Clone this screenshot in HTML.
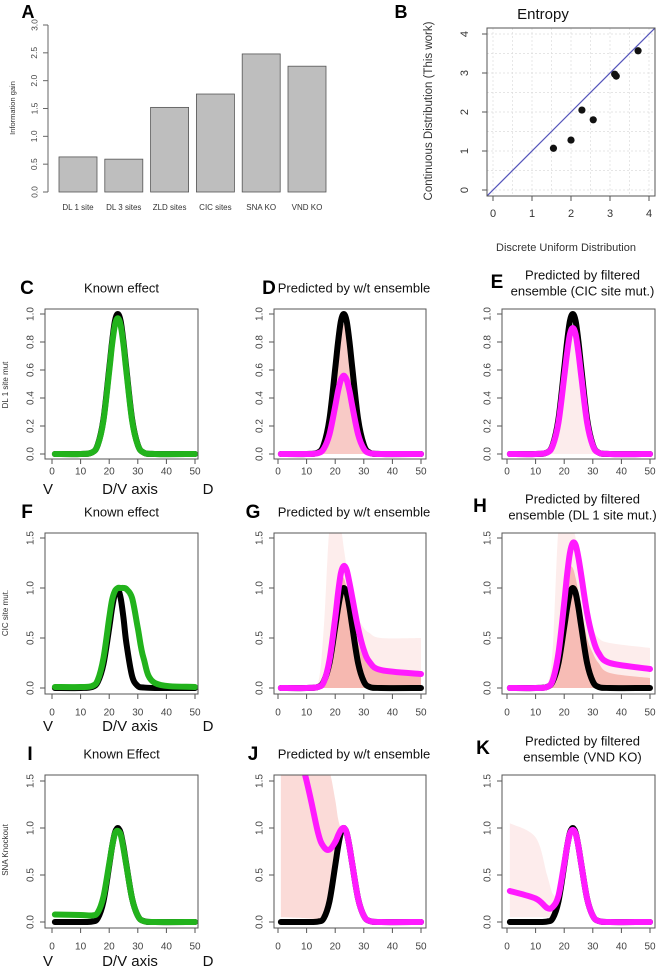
<!DOCTYPE html>
<html><head><meta charset="utf-8">
<style>
html,body{margin:0;padding:0;background:#fff;}
svg{display:block;font-family:"Liberation Sans",Arial,sans-serif;}
</style></head>
<body>
<svg id="fig" width="660" height="967" viewBox="0 0 660 967" xmlns="http://www.w3.org/2000/svg"></svg>
<script>
// ---------- Panel A data ----------
const barCategories = ["DL 1 site","DL 3 sites","ZLD sites","CIC sites","SNA KO","VND KO"];
const barValues = [0.63, 0.59, 1.52, 1.76, 2.48, 2.26];
const barTicks = ["0.0","0.5","1.0","1.5","2.0","2.5","3.0"];

// ---------- Panel B data ----------
const entropyDiscrete = [1.55, 2.0, 2.28, 2.57, 3.12, 3.16, 3.72];
const entropyContinuous = [1.07, 1.28, 2.05, 1.8, 2.97, 2.92, 3.57];
const entropyTicks = [0,1,2,3,4];

// ---------- Curve data (D/V axis positions) ----------
const dvPos = [1,10,14,16,18,20,21,22,23,24,25,26,28,30,32,36,50];
const dlBlack   = [0,0,0.011,0.066,0.25,0.61,0.80,0.95,1.0,0.95,0.80,0.61,0.25,0.066,0.011,0,0];
const cGreen    = [0,0,0.011,0.064,0.24,0.59,0.78,0.92,0.97,0.92,0.78,0.59,0.24,0.064,0.011,0,0];
const dMagenta  = [0,0,0.006,0.037,0.14,0.34,0.45,0.53,0.56,0.53,0.45,0.34,0.14,0.037,0.006,0,0];
const eMagenta  = [0,0,0.01,0.06,0.225,0.55,0.72,0.855,0.9,0.855,0.72,0.55,0.225,0.06,0.01,0,0];
const fBlack    = [0,0,0.01,0.06,0.24,0.6,0.8,0.94,0.99,0.9,0.7,0.45,0.12,0.02,0.005,0,0];
const fGreen    = [0.01,0.01,0.02,0.08,0.3,0.7,0.88,0.97,1.0,1.0,1.0,0.99,0.9,0.6,0.3,0.05,0.01];
const gMagenta  = [0,0,0.01,0.06,0.28,0.7,0.95,1.15,1.22,1.18,1.05,0.9,0.6,0.38,0.26,0.18,0.14];
const hMagenta  = [0,0,0.01,0.08,0.35,0.85,1.13,1.35,1.45,1.43,1.3,1.12,0.75,0.5,0.35,0.25,0.19];
const iBlack    = [0,0,0.005,0.04,0.22,0.6,0.8,0.95,1.0,0.95,0.80,0.61,0.25,0.066,0.011,0,0];
const iGreen    = [0.08,0.075,0.07,0.1,0.27,0.62,0.8,0.94,0.97,0.93,0.78,0.6,0.25,0.066,0.01,0,0];
const jMagenta  = [2.6,1.5,0.95,0.8,0.77,0.85,0.92,0.98,1.0,0.95,0.8,0.61,0.25,0.066,0.011,0,0];
const kMagenta  = [0.33,0.25,0.15,0.16,0.28,0.62,0.8,0.94,0.98,0.94,0.8,0.61,0.25,0.066,0.011,0,0];
// ensemble envelopes (pink shading)
const gEnsUpper = [0,0,0.05,0.6,1.6,1.6,1.6,1.6,1.4,1.2,1.0,0.85,0.7,0.6,0.55,0.5,0.5];
const gEnsCore  = [0,0,0.01,0.06,0.3,0.75,1.0,1.1,1.1,1.0,0.85,0.7,0.45,0.3,0.22,0.16,0.12];
const hEnsUpper = [0,0,0.03,0.4,1.6,1.6,1.6,1.6,1.6,1.5,1.3,1.1,0.8,0.6,0.5,0.45,0.4];
const hEnsCore  = [0,0,0.01,0.06,0.3,0.8,1.05,1.2,1.2,1.1,0.95,0.8,0.5,0.35,0.25,0.15,0.1];
const jEnsUpper = [1.6,1.6,1.6,1.6,1.6,1.3,1.1,1.0,1.0,0.95,0.8,0.61,0.25,0.07,0.01,0,0];
const jEnsLower = [0.05,0.04,0.03,0.05,0.25,0.6,0.8,0.95,1.0,0.95,0.8,0.61,0.25,0.066,0.011,0,0];
const kEnsUpper = [1.05,0.9,0.5,0.3,0.3,0.62,0.8,0.94,0.98,0.94,0.8,0.61,0.25,0.066,0.011,0,0];
const kEnsLower = [0.05,0.05,0.05,0.06,0.22,0.6,0.8,0.94,0.98,0.94,0.8,0.61,0.25,0.066,0.011,0,0];
const dEnsUpper = [0,0,0.01,0.06,0.24,0.6,0.78,0.9,0.93,0.9,0.78,0.6,0.24,0.06,0.01,0,0];
const dvTicks = [0,10,20,30,40,50];

const NS = "http://www.w3.org/2000/svg";
const svg = document.getElementById("fig");
function el(tag, attrs, parent){
  const e = document.createElementNS(NS, tag);
  for (const k in attrs) e.setAttribute(k, attrs[k]);
  (parent||svg).appendChild(e);
  return e;
}
function txt(s, x, y, size, opts, parent){
  const t = el("text", Object.assign({x:x, y:y, "font-size":size, "text-anchor":"middle", "dominant-baseline":"middle", fill:"#222"}, opts||{}), parent);
  t.textContent = s;
  return t;
}

// ================= Panel A =================
const gA = el("g", {});


const aY = v => 192 - v * (192 - 25) / 3;
const aBarL = [59,105,150,196,242,288];
const aBarW = 38;
txt("A", 28, 13, 18, {"font-weight":"bold", fill:"#000"}, gA);
el("line", {x1:48, y1:aY(0), x2:48, y2:aY(3), stroke:"#666"}, gA);
barTicks.forEach((t,i)=>{
  const v = parseFloat(t), y = aY(v);
  el("line", {x1:43, y1:y, x2:48, y2:y, stroke:"#666"}, gA);
  const lt = txt(t, 35, y, 8.5, {transform:`rotate(-90 35 ${y})`, fill:"#444"}, gA);
  
  
});
const aTitle = txt("Information gain", 13, 108, 7.5, {transform:"rotate(-90 13 108)", fill:"#333"}, gA);


barCategories.forEach((c,i)=>{
  const x = aBarL[0] + i * (aBarL[5]-aBarL[0]) / 5;
  const r = el("rect", {x:x, y:aY(barValues[i]), width:aBarW, height:aY(0)-aY(barValues[i]), fill:"#bebebe", stroke:"#555", "stroke-width":0.8}, gA);
  
  
  const lt = txt(c, x + aBarW/2, 208, 8, {fill:"#333"}, gA);
  
  
});

// ================= Panel B =================
const gB = el("g", {});


const bX = v => 493 + v * 39;
const bY = v => 190 - v * 39;
const bBox = {l:487, r:655, t:28, b:196};
txt("B", 401, 13, 18, {"font-weight":"bold", fill:"#000"}, gB);
txt("Entropy", 543, 15, 15, {fill:"#111"}, gB);
for (let v=0; v<=4.01; v+=0.5){
  el("line", {x1:bX(v), y1:bBox.t, x2:bX(v), y2:bBox.b, stroke:"#ddd", "stroke-dasharray":"2,2", "stroke-width":0.7}, gB);
  el("line", {x1:bBox.l, y1:bY(v), x2:bBox.r, y2:bY(v), stroke:"#ddd", "stroke-dasharray":"2,2", "stroke-width":0.7}, gB);
}
el("clipPath", {id:"clipB"}, gB);
el("rect", {x:bBox.l, y:bBox.t, width:bBox.r-bBox.l, height:bBox.b-bBox.t}, document.getElementById("clipB"));
const diag = el("line", {x1:bX(-0.2), y1:bY(-0.2), x2:bX(4.3), y2:bY(4.3), stroke:"#5555bb", "stroke-width":1.2, "clip-path":"url(#clipB)"}, gB);


el("rect", {x:bBox.l, y:bBox.t, width:bBox.r-bBox.l, height:bBox.b-bBox.t, fill:"none", stroke:"#555"}, gB);
entropyTicks.forEach(v=>{
  el("line", {x1:bX(v), y1:bBox.b, x2:bX(v), y2:bBox.b+5, stroke:"#555"}, gB);
  txt(String(v), bX(v), 214, 11, {fill:"#333"}, gB);
  el("line", {x1:bBox.l-5, y1:bY(v), x2:bBox.l, y2:bY(v), stroke:"#555"}, gB);
  txt(String(v), 465, bY(v), 11, {transform:`rotate(-90 465 ${bY(v)})`, fill:"#333"}, gB);
});
txt("Discrete Uniform Distribution", 566, 248, 11, {fill:"#333"}, gB);
txt("Continuous Distribution (This work)", 429, 111, 11.5, {transform:"rotate(-90 429 111)", fill:"#333"}, gB);
entropyDiscrete.forEach((d,i)=>{
  const c = el("circle", {cx:bX(d), cy:bY(entropyContinuous[i]), r:3.6, fill:"#111"}, gB);
  
  
});

// ================= Curve panels =================
const cols = [
  {x0:52, x50:195, l:45, r:198},
  {x0:278, x50:421, l:274, r:426},
  {x0:507, x50:650, l:502, r:655}
];
const rows = [
  {y0:454, unit:140, t:309, b:459, ticks:["0.0","0.2","0.4","0.6","0.8","1.0"], max:1.0, xlab:472, dv:490, ylabel:"DL 1 site mut", ylabY:385},
  {y0:688, unit:100, t:533, b:694, ticks:["0.0","0.5","1.0","1.5"], max:1.5, xlab:713, dv:727, ylabel:"CIC site mut.", ylabY:613},
  {y0:922, unit:94, t:775, b:928, ticks:["0.0","0.5","1.0","1.5"], max:1.5, xlab:947, dv:962, ylabel:"SNA Knockout", ylabY:850}
];
function smoothPath(pts){
  let d = `M${pts[0][0]},${pts[0][1]}`;
  for (let i=0;i<pts.length-1;i++){
    const p0 = pts[i-1]||pts[i], p1 = pts[i], p2 = pts[i+1], p3 = pts[i+2]||p2;
    const c1 = [p1[0]+(p2[0]-p0[0])/6, p1[1]+(p2[1]-p0[1])/6];
    const c2 = [p2[0]-(p3[0]-p1[0])/6, p2[1]-(p3[1]-p1[1])/6];
    d += ` C${c1[0]},${c1[1]} ${c2[0]},${c2[1]} ${p2[0]},${p2[1]}`;
  }
  return d;
}
let clipN = 0;
function panel(ri, ci, letter, titleLines, letterX, name){
  const R = rows[ri], C = cols[ci];
  const g = el("g", {});
  
  
  const sx = v => C.x0 + v * (C.x50 - C.x0) / 50;
  const sy = v => R.y0 - v * R.unit;
  const id = "clip" + (clipN++);
  const cp = el("clipPath", {id:id}, g);
  el("rect", {x:C.l, y:R.t, width:C.r-C.l, height:R.b-R.t}, cp);
  const plot = el("g", {"clip-path":`url(#${id})`}, g);
  const lty = titleLines.length === 1 ? R.t - 20 : R.t - 26;
  txt(letter, letterX, lty, 19, {"font-weight":"bold", fill:"#000"}, g);
  const tcx = (C.l + C.r)/2 + (ci === 0 ? 0 : 4);
  titleLines.forEach((s,k)=>{
    const y = titleLines.length === 1 ? R.t - 20 : R.t - 33 + k*16;
    const t = txt(s, tcx, y, 13, {fill:"#111"}, g);
    
    
  });
  el("rect", {x:C.l, y:R.t, width:C.r-C.l, height:R.b-R.t, fill:"none", stroke:"#555"}, g);
  dvTicks.forEach(v=>{
    el("line", {x1:sx(v), y1:R.b, x2:sx(v), y2:R.b+5, stroke:"#555"}, g);
    const t = txt(String(v), sx(v), R.xlab, 10, {fill:"#444"}, g);
    
    
  });
  R.ticks.forEach(s=>{
    const y = sy(parseFloat(s));
    el("line", {x1:C.l-5, y1:y, x2:C.l, y2:y, stroke:"#555"}, g);
    const t = txt(s, C.l-14, y, 10, {transform:`rotate(-90 ${C.l-14} ${y})`, fill:"#444"}, g);
    
    
  });
  if (ci === 0){
    const t = txt(R.ylabel, 6, R.ylabY, 8, {transform:`rotate(-90 6 ${R.ylabY})`, fill:"#333"}, g);
    
    
    txt("V", 48, R.dv, 15, {fill:"#111"}, g);
    txt("D/V axis", 130, R.dv, 15, {fill:"#111"}, g);
    txt("D", 208, R.dv, 15, {fill:"#111"}, g);
  }
  return {
    line(vals, color, w, nm){
      const p = el("path", {d:smoothPath(dvPos.map((x,i)=>[sx(x), sy(vals[i])])), fill:"none", stroke:color, "stroke-width":w, "stroke-linecap":"round", "stroke-linejoin":"round"}, plot);
      
      
    },
    band(upper, lower, color, op, nm){
      const up = dvPos.map((x,i)=>[sx(x), sy(upper[i])]);
      const lo = dvPos.map((x,i)=>[sx(x), sy(lower[i])]).reverse();
      const d = smoothPath(up) + " L" + smoothPath(lo).slice(1) + " Z";
      const p = el("path", {d:d, fill:color, "fill-opacity":op, stroke:"none"}, plot);
      
      
    }
  };
}
const zeros = dvPos.map(()=>0);

let P = panel(0,0,"C",["Known effect"],27,"panel-c");
P.line(dlBlack,"#000",6,"known-black-curve");
P.line(cGreen,"#22b31c",6,"known-effect-green-curve");

P = panel(0,1,"D",["Predicted by w/t ensemble"],269,"panel-d");
P.band(dEnsUpper, zeros, "#f08a80", 0.45, "ensemble-band");
P.line(dlBlack,"#000",6,"wt-black-curve");
P.line(dMagenta,"#ff1aff",6,"prediction-magenta-curve");

P = panel(0,2,"E",["Predicted by filtered","ensemble (CIC site mut.)"],497,"panel-e");
P.band(eMagenta, zeros, "#f6c0c0", 0.3, "ensemble-band");
P.line(dlBlack,"#000",6,"wt-black-curve");
P.line(eMagenta,"#ff1aff",6,"prediction-magenta-curve");

P = panel(1,0,"F",["Known effect"],27,"panel-f");
P.line(fBlack,"#000",6,"known-black-curve");
P.line(fGreen,"#22b31c",6,"known-effect-green-curve");

P = panel(1,1,"G",["Predicted by w/t ensemble"],253,"panel-g");
P.band(gEnsUpper, zeros, "#fbd3d0", 0.4, "ensemble-haze");
P.band(gEnsCore, zeros, "#f29488", 0.6, "ensemble-band");
P.line(dlBlack,"#000",6,"wt-black-curve");
P.line(gMagenta,"#ff1aff",6,"prediction-magenta-curve");

P = panel(1,2,"H",["Predicted by filtered","ensemble (DL 1 site mut.)"],480,"panel-h");
P.band(hEnsUpper, zeros, "#fbd3d0", 0.4, "ensemble-haze");
P.band(hEnsCore, zeros, "#f29488", 0.55, "ensemble-band");
P.line(dlBlack,"#000",6,"wt-black-curve");
P.line(hMagenta,"#ff1aff",6,"prediction-magenta-curve");

P = panel(2,0,"I",["Known Effect"],30,"panel-i");
P.line(iBlack,"#000",6,"known-black-curve");
P.line(iGreen,"#22b31c",6,"known-effect-green-curve");

P = panel(2,1,"J",["Predicted by w/t ensemble"],253,"panel-j");
P.band(jEnsUpper, jEnsLower, "#f7b0a8", 0.45, "ensemble-band");
P.line(iBlack,"#000",6,"wt-black-curve");
P.line(jMagenta,"#ff1aff",6,"prediction-magenta-curve");

P = panel(2,2,"K",["Predicted by filtered","ensemble (VND KO)"],483,"panel-k");
P.band(kEnsUpper, kEnsLower, "#f8c8c8", 0.35, "ensemble-band");
P.line(iBlack,"#000",6,"wt-black-curve");
P.line(kMagenta,"#ff1aff",6,"prediction-magenta-curve");
</script>
</body></html>
